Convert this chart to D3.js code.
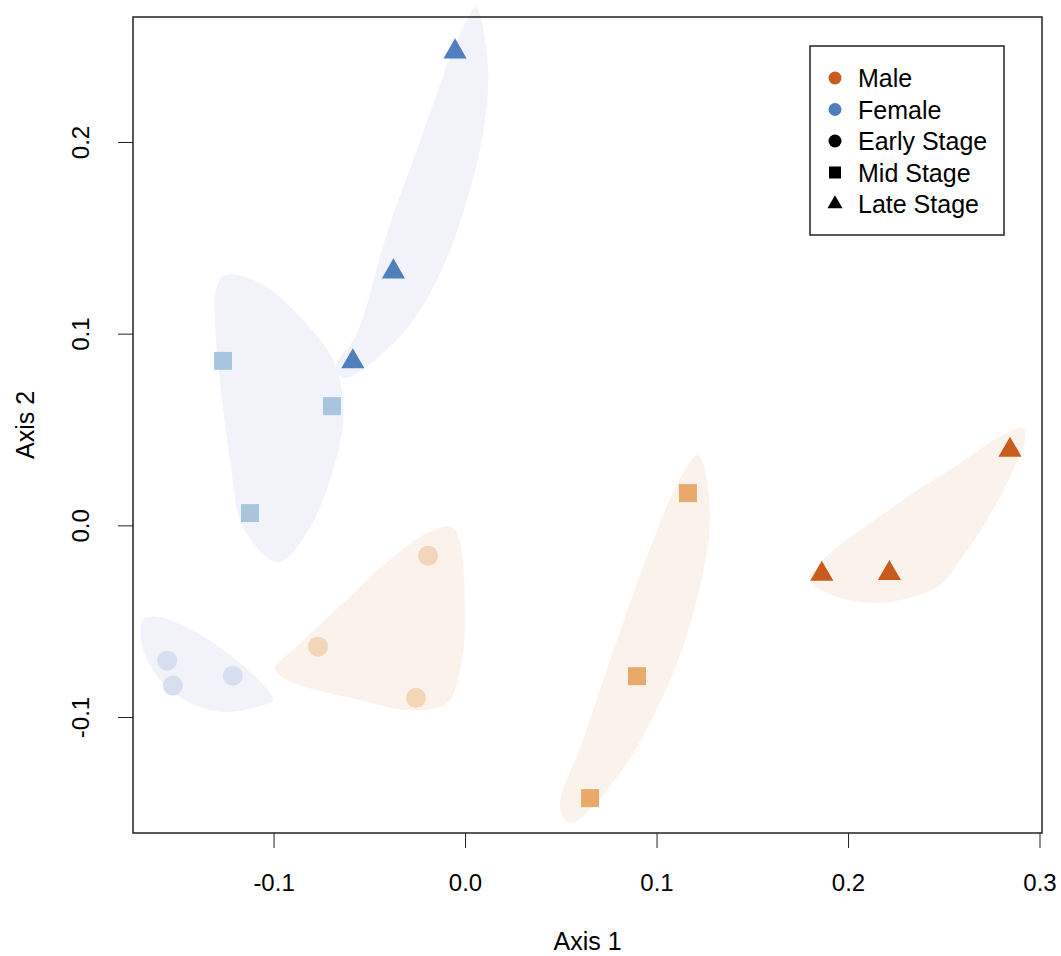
<!DOCTYPE html>
<html lang="en">
  <head>
    <meta charset="UTF-8" />
    <title>Ordination by Sex and Stage</title>
    <script src="https://d3js.org/d3.v7.min.js"></script>
    <style>
      body {
        margin: 0;
        background: #fff;
        font-family: "Liberation Sans", Arial, sans-serif;
      }
      .tick line {
        stroke: #222;
      }
      text {
        fill: #000;
      }
    </style>
  </head>
  <body>
    <svg width="1061" height="956"></svg>

    <script>
      // samples: ordination scores
      const sampleSex = ["Female", "Female", "Female", "Female", "Female", "Female", "Female", "Female", "Female",
                         "Male", "Male", "Male", "Male", "Male", "Male", "Male", "Male", "Male"];
      const sampleStage = ["Early", "Early", "Early", "Mid", "Mid", "Mid", "Late", "Late", "Late",
                           "Early", "Early", "Early", "Mid", "Mid", "Mid", "Late", "Late", "Late"];
      const axis1 = [-0.1555, -0.1526, -0.1213, -0.1264, -0.0695, -0.1123, -0.0052, -0.0374, -0.0586,
                     -0.0193, -0.0768, -0.0256, 0.1164, 0.0898, 0.0653, 0.2846, 0.1863, 0.2216];
      const axis2 = [-0.0706, -0.0836, -0.0784, 0.0858, 0.0622, 0.0064, 0.2471, 0.1323, 0.0854,
                     -0.0158, -0.0633, -0.0900, 0.0168, -0.0787, -0.1423, 0.0393, -0.0254, -0.0250];

      // group outlines (axis units)
      const hullFemaleEarly = [[-0.1681, -0.0493], [-0.1608, -0.0477], [-0.1399, -0.0561], [-0.1175, -0.0718],
        [-0.1018, -0.0874], [-0.1003, -0.0911], [-0.1086, -0.0948], [-0.1264, -0.0974], [-0.1436, -0.0927],
        [-0.1577, -0.0823], [-0.1681, -0.065]];
      const hullFemaleMid = [[-0.1253, 0.1306], [-0.107, 0.1264], [-0.0862, 0.1087], [-0.0689, 0.0863],
        [-0.0637, 0.0654], [-0.0653, 0.043], [-0.0809, -0.0009], [-0.0977, -0.0192], [-0.1159, -0.0009],
        [-0.1227, 0.0341], [-0.1305, 0.1035], [-0.13, 0.1228]];
      const hullFemaleLate = [[0.0057, 0.2704], [0.012, 0.2391], [0.0094, 0.2047], [0.001, 0.1697],
        [-0.0115, 0.1348], [-0.0324, 0.1003], [-0.0627, 0.0769], [-0.0674, 0.0821], [-0.0564, 0.1003],
        [-0.0407, 0.1525], [-0.0219, 0.2047], [-0.0063, 0.248], [0.001, 0.2636]];
      const hullMaleEarly = [[-0.0068, -0.0009], [-0.0026, -0.0093], [0.0, -0.0442], [-0.0016, -0.0703],
        [-0.0094, -0.0927], [-0.0287, -0.0964], [-0.0548, -0.0911], [-0.093, -0.0807], [-0.0992, -0.0739],
        [-0.0898, -0.065], [-0.0637, -0.0405], [-0.0376, -0.0165], [-0.0167, -0.0024]];
      const hullMaleMid = [[0.1217, 0.0367], [0.1279, 0.0095], [0.1243, -0.0249], [0.1086, -0.077],
        [0.0809, -0.1292], [0.0548, -0.1553], [0.0496, -0.1469], [0.0616, -0.112], [0.0794, -0.0598],
        [0.0982, -0.008], [0.1138, 0.0273]];
      const hullMaleLate = [[0.2914, 0.0508], [0.2924, 0.0445], [0.2862, 0.0288], [0.2726, 0.0028],
        [0.2585, -0.0181], [0.2465, -0.0322], [0.2151, -0.0405], [0.189, -0.0353], [0.1802, -0.0285],
        [0.1869, -0.0181], [0.2235, 0.0096], [0.2585, 0.0325], [0.2809, 0.0472]];

      const xTicks = [-0.1, 0.0, 0.1, 0.2, 0.3];
      const yTicks = [-0.1, 0.0, 0.1, 0.2];
      const legendLabels = ["Male", "Female", "Early Stage", "Mid Stage", "Late Stage"];

      const pointColor = {
        "Female Early": "#d5dff0", "Female Mid": "#a8c5e0", "Female Late": "#4f7fbd",
        "Male Early": "#f2d6b7", "Male Mid": "#e8a96b", "Male Late": "#c95b1f"
      };
      const hullColor = {Female: "#f2f3fa", Male: "#fbf2eb"};

      const svg = d3.select("svg");
      const box = {left: 133, right: 1042, top: 17, bottom: 833};

      const x = d3.scaleLinear().domain([-0.1734, 0.3013]).range([box.left, box.right]);
      const y = d3.scaleLinear().domain([-0.1605, 0.2652]).range([box.bottom, box.top]);

      // hulls
      const hulls = [
        {sex: "Female", pts: hullFemaleEarly}, {sex: "Female", pts: hullFemaleMid},
        {sex: "Female", pts: hullFemaleLate}, {sex: "Male", pts: hullMaleEarly},
        {sex: "Male", pts: hullMaleMid}, {sex: "Male", pts: hullMaleLate}
      ];
      const hullLine = d3.line()
        .x((d) => x(d[0]))
        .y((d) => y(d[1]))
        .curve(d3.curveCatmullRomClosed.alpha(0.5));

      svg.append("g").selectAll("path")
        .data(hulls)
        .join("path")
        .attr("fill", (d) => hullColor[d.sex])
        .attr("d", (d) => hullLine(d.pts));

      // marker shapes, sized like R pch 15/16/17
      function shape(stage, s) {
        if (stage === "Early") return `M${s},0A${s},${s} 0 1,1 ${-s},0A${s},${s} 0 1,1 ${s},0Z`;
        if (stage === "Mid") return `M${-s},${-s}H${s}V${s}H${-s}Z`;
        const r = 1.5551 * s, xc = 1.3468 * s, yc = 0.7776 * s;
        return `M0,${-r}L${xc},${yc}L${-xc},${yc}Z`;
      }
      const markerSize = {Early: 10, Mid: 9, Late: 8.6};

      const samples = axis1.map((v, i) => ({a1: v, a2: axis2[i], sex: sampleSex[i], stage: sampleStage[i]}));

      svg.append("g").selectAll("path")
        .data(samples)
        .join("path")
        .attr("transform", (d) => `translate(${x(d.a1)},${y(d.a2)})`)
        .attr("fill", (d) => pointColor[d.sex + " " + d.stage])
        .attr("d", (d) => shape(d.stage, markerSize[d.stage]));

      // axes (R-style labels with plain hyphen)
      const fmt = (d) => d.toFixed(1);
      const xAxis = svg.append("g")
        .attr("transform", `translate(0,${box.bottom})`)
        .call(d3.axisBottom(x).tickValues(xTicks).tickFormat(fmt).tickSize(15).tickSizeOuter(0));
      xAxis.select(".domain").remove();
      xAxis.selectAll("text").attr("y", 58).attr("dy", null)
        .style("font-size", "24px").style("font-family", "Liberation Sans, Arial, sans-serif");

      const yAxis = svg.append("g")
        .attr("transform", `translate(${box.left},0)`)
        .call(d3.axisLeft(y).tickValues(yTicks).tickFormat(fmt).tickSize(15).tickSizeOuter(0));
      yAxis.select(".domain").remove();
      yAxis.selectAll("text")
        .attr("x", null).attr("dy", null)
        .attr("text-anchor", "middle")
        .attr("transform", "translate(-44,0) rotate(-90)")
        .style("font-size", "24px").style("font-family", "Liberation Sans, Arial, sans-serif");

      // plot box
      svg.append("rect")
        .attr("x", box.left).attr("y", box.top)
        .attr("width", box.right - box.left).attr("height", box.bottom - box.top)
        .attr("fill", "none").attr("stroke", "#222").attr("stroke-width", 1.5);

      // axis titles
      svg.append("text")
        .attr("x", (box.left + box.right) / 2).attr("y", 950)
        .attr("text-anchor", "middle").style("font-size", "25px")
        .text("Axis 1");
      svg.append("text")
        .attr("transform", `translate(34,${(box.top + box.bottom) / 2}) rotate(-90)`)
        .attr("text-anchor", "middle").style("font-size", "25px")
        .text("Axis 2");

      // legend
      const legend = svg.append("g").attr("transform", "translate(810,46)");
      legend.append("rect")
        .attr("width", 194).attr("height", 189)
        .attr("fill", "#fff").attr("stroke", "#222").attr("stroke-width", 1.5);
      const legendShape = ["Early", "Early", "Early", "Mid", "Late"];
      const legendColor = ["#c95b1f", "#4f80be", "#000", "#000", "#000"];
      const legendSize = {Early: 6.5, Mid: 6, Late: 5.6};
      const rows = legend.selectAll("g.row")
        .data(legendLabels)
        .join("g")
        .attr("class", "row")
        .attr("transform", (d, i) => `translate(0,${32 + i * 31.5})`);
      rows.append("path")
        .attr("transform", "translate(25,0)")
        .attr("fill", (d, i) => legendColor[i])
        .attr("d", (d, i) => shape(legendShape[i], legendSize[legendShape[i]]));
      rows.append("text")
        .attr("x", 48).attr("dy", "0.36em")
        .style("font-size", "25px")
        .text((d) => d);
    </script>
  </body>
</html>
